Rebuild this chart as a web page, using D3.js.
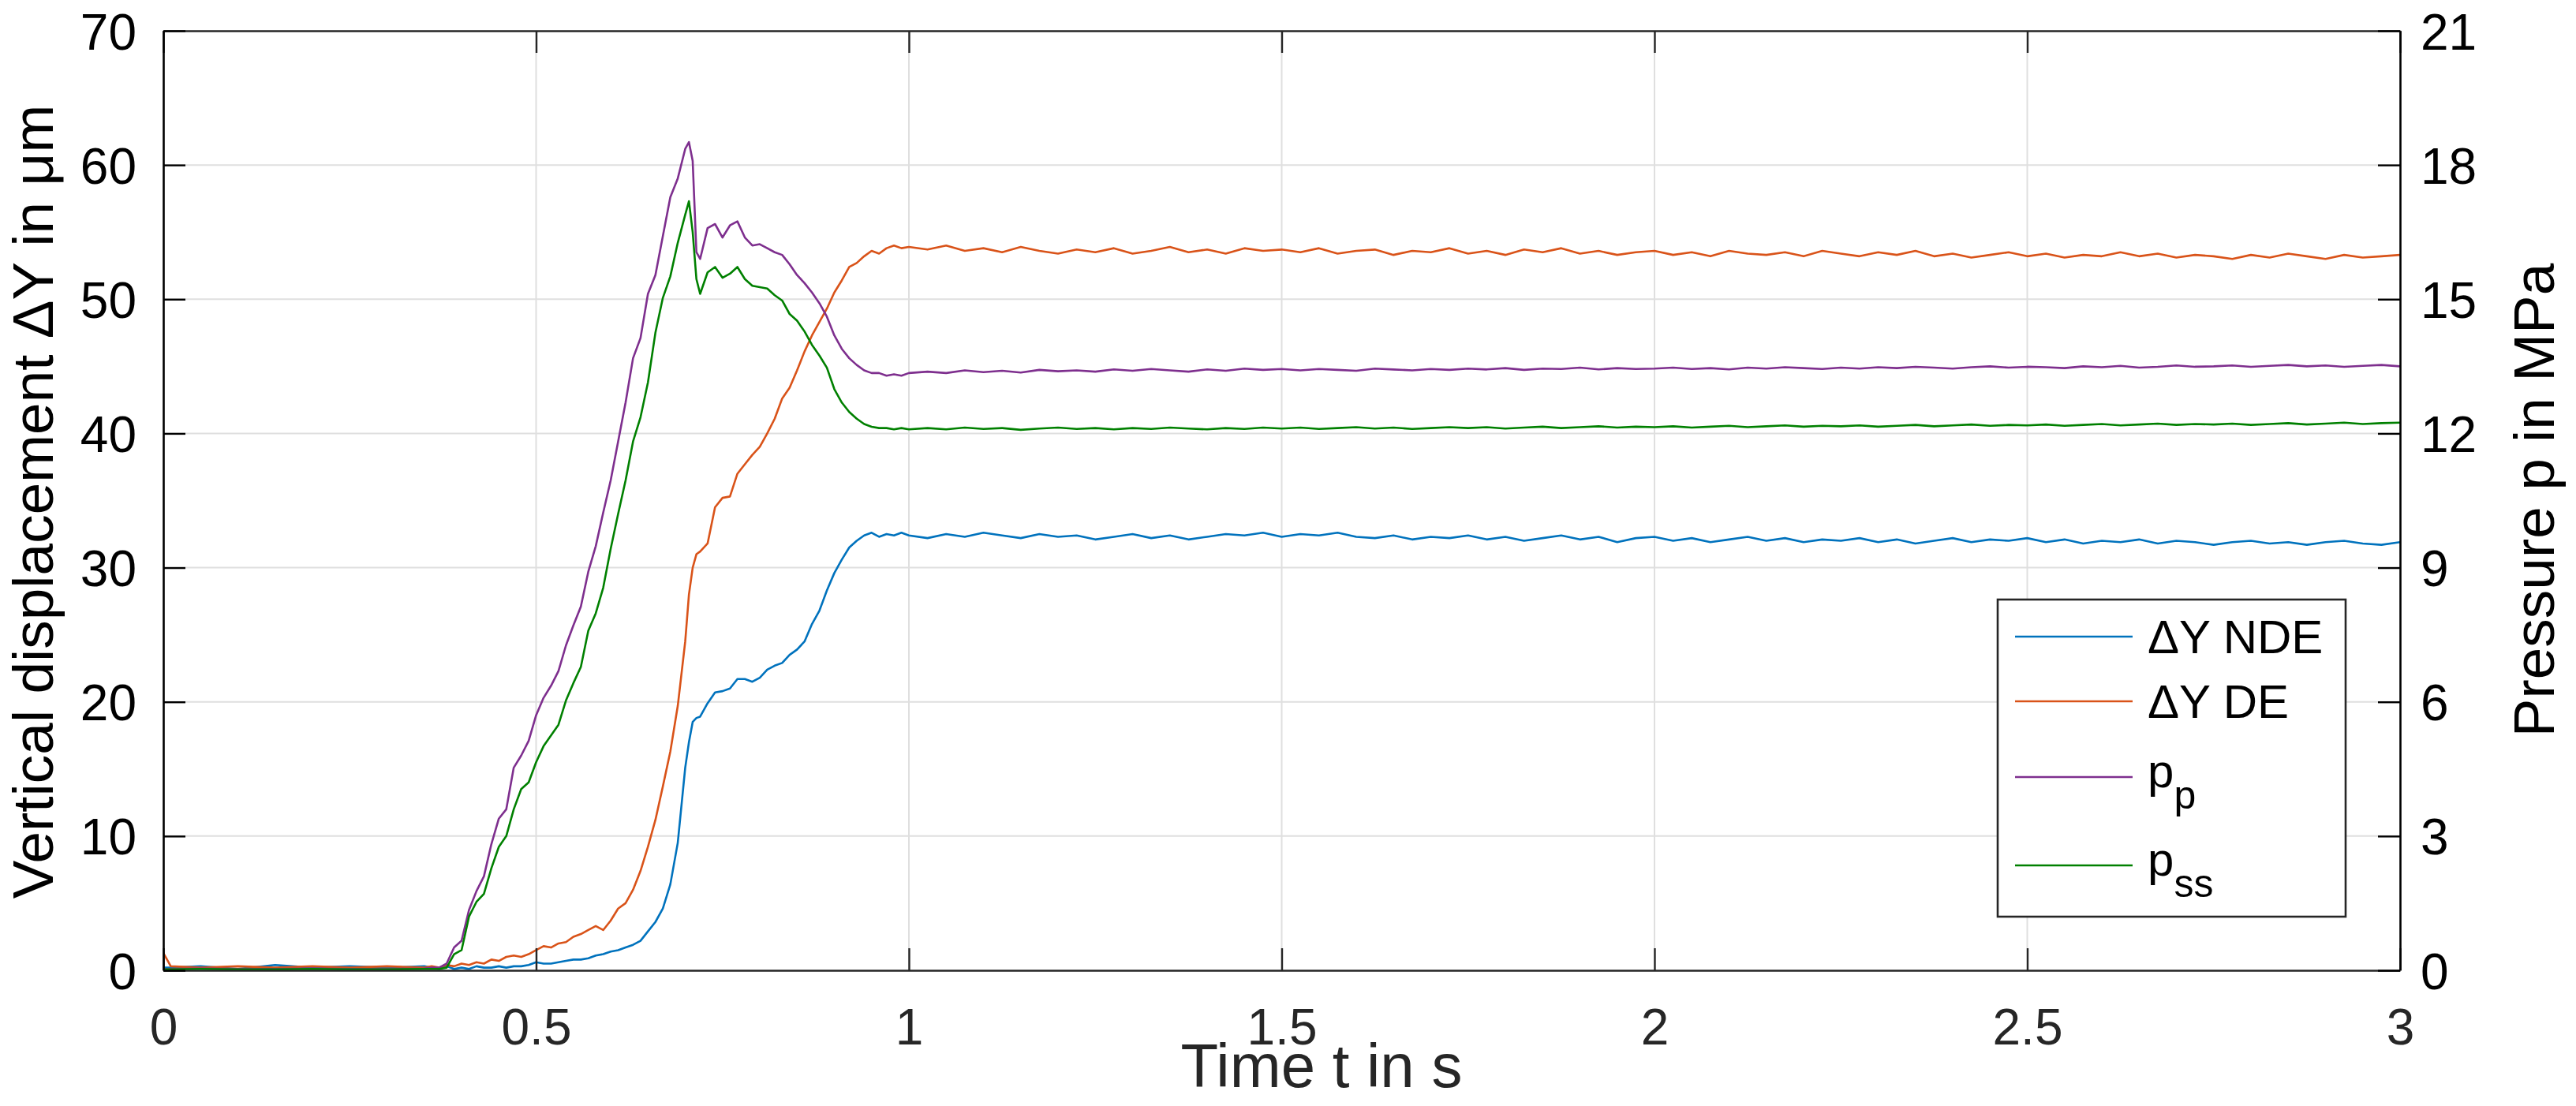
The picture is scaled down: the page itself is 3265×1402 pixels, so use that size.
<!DOCTYPE html>
<html><head><meta charset="utf-8">
<script src="https://cdn.jsdelivr.net/npm/d3@7"></script>
<style>html,body{margin:0;padding:0;background:#fff;} svg{display:block;}</style>
</head><body><svg id="chart" width="3265" height="1402"></svg>
<script>
// ---------- DATA ----------
const time = [0,0.01,0.05,0.1,0.15,0.2,0.25,0.3,0.35,
0.36,0.37,0.38,0.39,0.40,0.41,0.42,0.43,0.44,0.45,
0.46,0.47,0.48,0.49,0.50,0.51,0.52,0.53,0.54,0.55,
0.56,0.57,0.58,0.59,0.60,0.61,0.62,0.63,0.64,0.65,
0.66,0.67,0.68,0.69,0.70,
0.705,0.71,0.715,
0.72,0.73,0.74,0.75,0.76,0.77,0.78,0.79,0.80,0.81,
0.82,0.83,0.84,0.85,0.86,0.87,0.88,0.89,0.90,0.91,
0.92,0.93,0.94,0.95,0.96,0.97,0.98,0.99,1.00,
1.025,1.05,1.075,1.1,1.125,1.15,1.175,1.2,1.225,1.25,
1.275,1.3,1.325,1.35,1.375,1.4,1.425,1.45,1.475,1.5,
1.525,1.55,1.575,1.6,1.625,1.65,1.675,1.7,1.725,1.75,
1.775,1.8,1.825,1.85,1.875,1.9,1.925,1.95,1.975,2.0,
2.025,2.05,2.075,2.1,2.125,2.15,2.175,2.2,2.225,2.25,
2.275,2.3,2.325,2.35,2.375,2.4,2.425,2.45,2.475,2.5,
2.525,2.55,2.575,2.6,2.625,2.65,2.675,2.7,2.725,2.75,
2.775,2.8,2.825,2.85,2.875,2.9,2.925,2.95,2.975,3.0];

// Vertical displacement NDE (µm)
const dyNDE = [0.2,0.2,0.3,0.1,0.4,0.2,0.3,0.2,0.3,
0.2,0.1,0.3,0.1,0.2,0.1,0.3,0.2,0.2,0.3,
0.2,0.3,0.3,0.4,0.6,0.5,0.5,0.6,0.7,0.8,
0.8,0.9,1.1,1.2,1.4,1.5,1.7,1.9,2.2,2.9,
3.6,4.6,6.4,9.5,15.1,
17.0,18.5,18.8,
18.9,19.9,20.7,20.8,21.0,21.7,21.7,21.5,21.8,22.4,
22.7,22.9,23.5,23.9,24.5,25.8,26.8,28.3,29.6,30.6,
31.5,32.0,32.4,32.6,32.3,32.5,32.4,32.6,32.4,
32.2,32.5,32.3,32.6,32.4,32.2,32.5,32.3,32.4,32.1,
32.3,32.5,32.2,32.4,32.1,32.3,32.5,32.4,32.6,32.3,
32.5,32.4,32.6,32.3,32.2,32.4,32.1,32.3,32.2,32.4,
32.1,32.3,32.0,32.2,32.4,32.1,32.3,31.9,32.2,32.3,
32.0,32.2,31.9,32.1,32.3,32.0,32.2,31.9,32.1,32.0,
32.2,31.9,32.1,31.8,32.0,32.2,31.9,32.1,32.0,32.2,
31.9,32.1,31.8,32.0,31.9,32.1,31.8,32.0,31.9,31.7,
31.9,32.0,31.8,31.9,31.7,31.9,32.0,31.8,31.7,31.9];

// Vertical displacement DE (µm)
const dyDE = [1.3,0.3,0.2,0.3,0.2,0.3,0.2,0.3,0.2,
0.3,0.2,0.4,0.3,0.5,0.4,0.6,0.5,0.8,0.7,
1.0,1.1,1.0,1.2,1.5,1.8,1.7,2.0,2.1,2.5,
2.7,3.0,3.3,3.0,3.7,4.6,5.0,6.0,7.4,9.2,
11.2,13.7,16.3,19.7,24.5,
28.0,30.0,31.0,
31.2,31.8,34.5,35.2,35.3,37.0,37.7,38.4,39.0,40.0,
41.1,42.6,43.4,44.7,46.1,47.3,48.3,49.3,50.5,51.4,
52.4,52.7,53.2,53.6,53.4,53.8,54.0,53.8,53.9,
53.7,54.0,53.6,53.8,53.5,53.9,53.6,53.4,53.7,53.5,
53.8,53.4,53.6,53.9,53.5,53.7,53.4,53.8,53.6,53.7,
53.5,53.8,53.4,53.6,53.7,53.3,53.6,53.5,53.8,53.4,
53.6,53.3,53.7,53.5,53.8,53.4,53.6,53.3,53.5,53.6,
53.3,53.5,53.2,53.6,53.4,53.3,53.5,53.2,53.6,53.4,
53.2,53.5,53.3,53.6,53.2,53.4,53.1,53.3,53.5,53.2,
53.4,53.1,53.3,53.2,53.5,53.2,53.4,53.1,53.3,53.2,
53.0,53.3,53.1,53.4,53.2,53.0,53.3,53.1,53.2,53.3];

// Pressure p_p (MPa)
const pP = [0.03,0.03,0.04,0.03,0.03,0.04,0.03,0.03,0.04,
0.06,0.06,0.15,0.51,0.66,1.35,1.77,2.10,2.82,3.39,
3.60,4.53,4.80,5.13,5.70,6.09,6.36,6.69,7.26,7.71,
8.13,8.91,9.48,10.23,10.95,11.82,12.69,13.68,14.13,15.12,
15.54,16.41,17.28,17.70,18.36,
18.51,18.09,16.05,
15.90,16.59,16.68,16.38,16.65,16.74,16.38,16.20,16.23,16.14,
16.05,15.99,15.78,15.54,15.36,15.15,14.91,14.61,14.19,13.89,
13.68,13.53,13.41,13.35,13.35,13.29,13.32,13.29,13.35,
13.38,13.35,13.41,13.37,13.40,13.36,13.42,13.39,13.41,13.38,
13.43,13.40,13.44,13.41,13.38,13.43,13.40,13.45,13.42,13.44,
13.41,13.44,13.42,13.40,13.45,13.43,13.41,13.44,13.42,13.45,
13.43,13.46,13.42,13.45,13.44,13.47,13.43,13.46,13.44,13.45,
13.47,13.44,13.46,13.43,13.47,13.45,13.48,13.46,13.44,13.47,
13.45,13.48,13.46,13.49,13.47,13.45,13.48,13.50,13.47,13.49,
13.48,13.46,13.50,13.48,13.51,13.47,13.49,13.52,13.49,13.50,
13.52,13.49,13.51,13.53,13.50,13.52,13.49,13.51,13.53,13.50];

// Pressure p_ss (MPa)
const pSS = [0.02,0.02,0.03,0.02,0.02,0.03,0.02,0.02,0.03,
0.03,0.03,0.06,0.36,0.45,1.20,1.53,1.71,2.28,2.76,
3.00,3.60,4.05,4.20,4.65,5.01,5.25,5.49,6.03,6.42,
6.78,7.59,7.98,8.55,9.42,10.20,10.95,11.82,12.36,13.14,
14.25,15.03,15.51,16.26,16.89,
17.19,16.50,15.45,
15.12,15.60,15.72,15.48,15.57,15.72,15.45,15.30,15.27,15.24,
15.09,14.97,14.67,14.52,14.28,13.98,13.74,13.47,12.99,12.69,
12.48,12.33,12.21,12.15,12.12,12.12,12.09,12.12,12.09,
12.12,12.09,12.13,12.10,12.12,12.08,12.11,12.13,12.10,12.12,
12.09,12.12,12.10,12.13,12.11,12.09,12.12,12.10,12.13,12.11,
12.13,12.10,12.12,12.14,12.11,12.13,12.10,12.12,12.14,12.12,
12.14,12.11,12.13,12.15,12.12,12.14,12.16,12.13,12.15,12.14,
12.16,12.13,12.15,12.17,12.14,12.16,12.18,12.15,12.17,12.16,
12.18,12.15,12.17,12.19,12.16,12.18,12.20,12.17,12.19,12.18,
12.20,12.17,12.19,12.21,12.18,12.20,12.22,12.19,12.21,12.20,
12.22,12.19,12.21,12.23,12.20,12.22,12.24,12.21,12.23,12.24];

const xTicks = [0,0.5,1,1.5,2,2.5,3];
const yLeftTicks = [0,10,20,30,40,50,60,70];
const yRightTicks = [0,3,6,9,12,15,18,21];
const seriesNames = ["ΔY NDE","ΔY DE","p","p"];
const seriesSubs = ["","","p","ss"];
const seriesColors = ["#0072BD","#D95319","#7E2F8E","#008000"];

// ---------- CHART ----------
const FONT = '"Liberation Sans", Arial, Helvetica, sans-serif';
const svg = d3.select("#chart");
svg.append("rect").attr("width",3265).attr("height",1402).attr("fill","#fff");
const L=207, R=3042, T=39, B=1230;
const x = d3.scaleLinear().domain([0,3]).range([L,R]);
const yL = d3.scaleLinear().domain([0,70]).range([B,T]);
const yR = d3.scaleLinear().domain([0,21]).range([B,T]);

// grid
const grid = svg.append("g").attr("stroke","#dfdfdf").attr("stroke-width",2);
grid.selectAll(".gx").data(xTicks.slice(1,-1)).join("line")
  .attr("x1",d=>x(d)).attr("x2",d=>x(d)).attr("y1",T).attr("y2",B);
grid.selectAll(".gy").data(yLeftTicks.slice(1,-1)).join("line")
  .attr("x1",L).attr("x2",R).attr("y1",d=>yL(d)).attr("y2",d=>yL(d));

// lines
svg.append("clipPath").attr("id","clip").append("rect")
  .attr("x",L).attr("y",T).attr("width",R-L).attr("height",B-T);
const plot = svg.append("g").attr("clip-path","url(#clip)");
const lineL = d3.line().x(d=>x(d[0])).y(d=>yL(d[1]));
const lineR = d3.line().x(d=>x(d[0])).y(d=>yR(d[1]));
const series = [
  {vals:dyNDE, gen:lineL, c:seriesColors[0]},
  {vals:dyDE, gen:lineL, c:seriesColors[1]},
  {vals:pP, gen:lineR, c:seriesColors[2]},
  {vals:pSS, gen:lineR, c:seriesColors[3]}
];
series.forEach(s=>{
  plot.append("path").datum(d3.zip(time, s.vals))
    .attr("d", s.gen).attr("fill","none").attr("stroke",s.c)
    .attr("stroke-width",2.6).attr("stroke-linejoin","round");
});

// axes
function styleAxis(g, col){
  g.attr("font-size",null).attr("font-family",null);
  g.select(".domain").attr("stroke",col).attr("stroke-width",2.6);
  g.selectAll(".tick line").attr("stroke",col).attr("stroke-width",2.4);
  g.selectAll(".tick text").attr("font-family",FONT).attr("font-size",64).attr("fill",col);
}
const gxB = svg.append("g").attr("transform",`translate(0,${B})`)
  .call(d3.axisBottom(x).tickValues(xTicks).tickSize(-28).tickSizeOuter(0).tickFormat(d=>String(d)));
styleAxis(gxB,"#262626");
gxB.selectAll(".tick text").attr("y",94).attr("dy",null);

const gxT = svg.append("g").attr("transform",`translate(0,${T})`)
  .call(d3.axisTop(x).tickValues(xTicks).tickSize(-28).tickSizeOuter(0).tickFormat(""));
styleAxis(gxT,"#262626");

const gyL = svg.append("g").attr("transform",`translate(${L},0)`)
  .call(d3.axisLeft(yL).tickValues(yLeftTicks).tickSize(-28).tickSizeOuter(0));
styleAxis(gyL,"#000");
gyL.selectAll(".tick text").attr("x",-34).attr("dy","0.36em");

const gyR = svg.append("g").attr("transform",`translate(${R},0)`)
  .call(d3.axisRight(yR).tickValues(yRightTicks).tickSize(-28).tickSizeOuter(0));
styleAxis(gyR,"#000");
gyR.selectAll(".tick text").attr("x",26).attr("dy","0.36em");

// axis titles
svg.append("text").attr("transform","translate(67,636) rotate(-90)")
  .attr("text-anchor","middle").attr("font-family",FONT).attr("font-size",73).attr("fill","#000")
  .text("Vertical displacement ΔY in μm");
svg.append("text").attr("transform","translate(3237,634) rotate(-90)")
  .attr("text-anchor","middle").attr("font-family",FONT).attr("font-size",73).attr("fill","#000")
  .text("Pressure p in MPa");
svg.append("text").attr("x",1675).attr("y",1378)
  .attr("text-anchor","middle").attr("font-family",FONT).attr("font-size",78).attr("fill","#262626")
  .text("Time t in s");

// legend
const lg = svg.append("g");
lg.append("rect").attr("x",2532).attr("y",760).attr("width",441).attr("height",402)
  .attr("fill","#fff").attr("stroke","#262626").attr("stroke-width",2.6);
const rowY = [807,889,985,1097];
seriesNames.forEach((nm,i)=>{
  lg.append("line").attr("x1",2554).attr("x2",2703).attr("y1",rowY[i]).attr("y2",rowY[i])
    .attr("stroke",seriesColors[i]).attr("stroke-width",2.4);
  const t = lg.append("text").attr("x",2722).attr("y",rowY[i] + (seriesSubs[i] ? 13 : 21))
    .attr("font-family",FONT).attr("font-size",60).attr("fill","#000");
  t.append("tspan").text(nm);
  if (seriesSubs[i]) t.append("tspan").attr("dy",27).attr("font-size",50).text(seriesSubs[i]);
});
</script>
</body></html>
